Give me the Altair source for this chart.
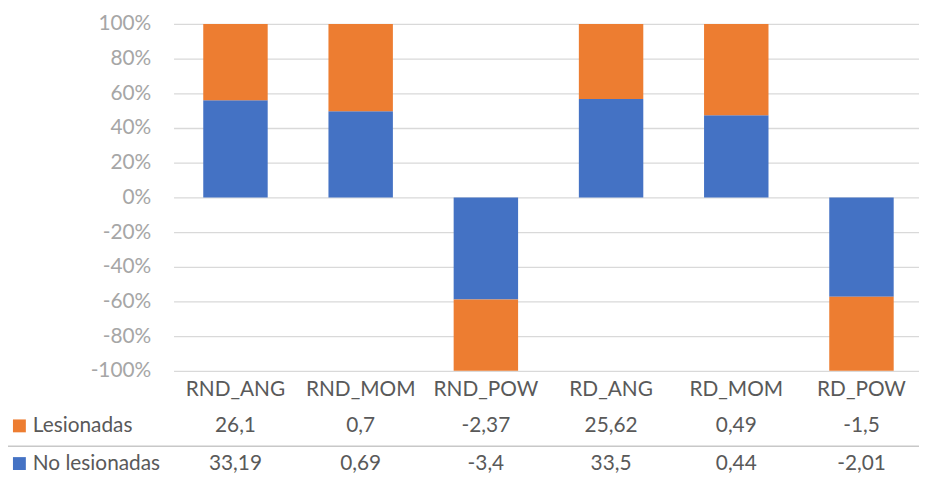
import altair as alt
import pandas as pd

categories = ["RND_ANG", "RND_MOM", "RND_POW", "RD_ANG", "RD_MOM", "RD_POW"]
lesionadas = [26.1, 0.7, -2.37, 25.62, 0.49, -1.5]
no_lesionadas = [33.19, 0.69, -3.4, 33.5, 0.44, -2.01]
series = ["Lesionadas", "No lesionadas"]
colors = ["#ED7D31", "#4472C4"]
y_ticks = [-1.0, -0.8, -0.6, -0.4, -0.2, 0.0, 0.2, 0.4, 0.6, 0.8, 1.0]

FONT = "Lato"
FS = 21
W, H = 752, 350

# 100% stacked layout (No lesionadas first from zero)
bar_rows = []
for c, l, n in zip(categories, lesionadas, no_lesionadas):
    a = abs(l + n)
    nf = n / a
    bar_rows.append(dict(cat=c, series="No lesionadas", y0=0.0, y1=nf))
    bar_rows.append(dict(cat=c, series="Lesionadas", y0=nf, y1=nf + l / a))
bars_df = pd.DataFrame(bar_rows)


def fmt(v):
    return ("%g" % v).replace(".", ",")


table_rows = []
for c, l, n in zip(categories, lesionadas, no_lesionadas):
    table_rows.append(dict(cat=c, series="Lesionadas", label=fmt(l)))
    table_rows.append(dict(cat=c, series="No lesionadas", label=fmt(n)))
table_df = pd.DataFrame(table_rows)
cat_df = pd.DataFrame({"cat": categories})
series_df = pd.DataFrame({"series": series, "color": colors})

xscale = alt.Scale(domain=categories, paddingInner=0.4853, paddingOuter=0.2197, align=0.54)
xenc = alt.X("cat:N", sort=categories, scale=xscale, axis=None)
cscale = alt.Scale(domain=series, range=colors)

bars = alt.Chart(bars_df).mark_bar().encode(
    x=xenc,
    y=alt.Y(
        "y0:Q",
        scale=alt.Scale(domain=[-1, 1], nice=False, zero=False),
        axis=alt.Axis(
            values=y_ticks,
            labelExpr="round(datum.value*100) + '%'",
            grid=True,
            gridColor="#D9D9D9",
            gridWidth=1.3,
            domain=False,
            ticks=False,
            tickSize=0,
            labelFont=FONT,
            labelFontSize=FS,
            labelColor="#A6A6A6",
            labelPadding=23,
            title=None,
        ),
    ),
    y2="y1:Q",
    color=alt.Color("series:N", scale=cscale, legend=None),
)

cat_text = alt.Chart(cat_df).mark_text(
    font=FONT, fontSize=FS, color="#595959", baseline="middle"
).encode(x=xenc, y=alt.value(369.5), text="cat:N")

row_y = {"Lesionadas": 405.5, "No lesionadas": 443.5}

layers = [bars, cat_text]
for s, col in zip(series, colors):
    ry = row_y[s]
    vals = alt.Chart(table_df).transform_filter(
        alt.datum.series == s
    ).mark_text(font=FONT, fontSize=FS, color="#595959", baseline="middle").encode(
        x=xenc, y=alt.value(ry), text="label:N"
    )
    name = alt.Chart(series_df).transform_filter(
        alt.datum.series == s
    ).mark_text(font=FONT, fontSize=FS, color="#595959", baseline="middle", align="left").encode(
        x=alt.value(-142), y=alt.value(ry), text="series:N"
    )
    key = alt.Chart(series_df).transform_filter(
        alt.datum.series == s
    ).mark_square(size=169, opacity=1, filled=True).encode(
        x=alt.value(-155.5), y=alt.value(ry), color=alt.Color("series:N", scale=cscale, legend=None)
    )
    layers += [vals, name, key]

sep = alt.Chart(cat_df.head(1)).mark_rule(color="#C8C8C8", strokeWidth=1.5).encode(
    x=alt.value(-172), x2=alt.value(W), y=alt.value(426)
)
layers.append(sep)

chart = alt.layer(*layers).properties(
    width=W,
    height=H,
    autosize=alt.AutoSizeParams(type="none"),
    padding={"left": 167, "top": 14, "right": 0, "bottom": 104},
).configure_view(stroke=None)

chart.save("out.html", embed_options={"renderer": "svg", "actions": False})
